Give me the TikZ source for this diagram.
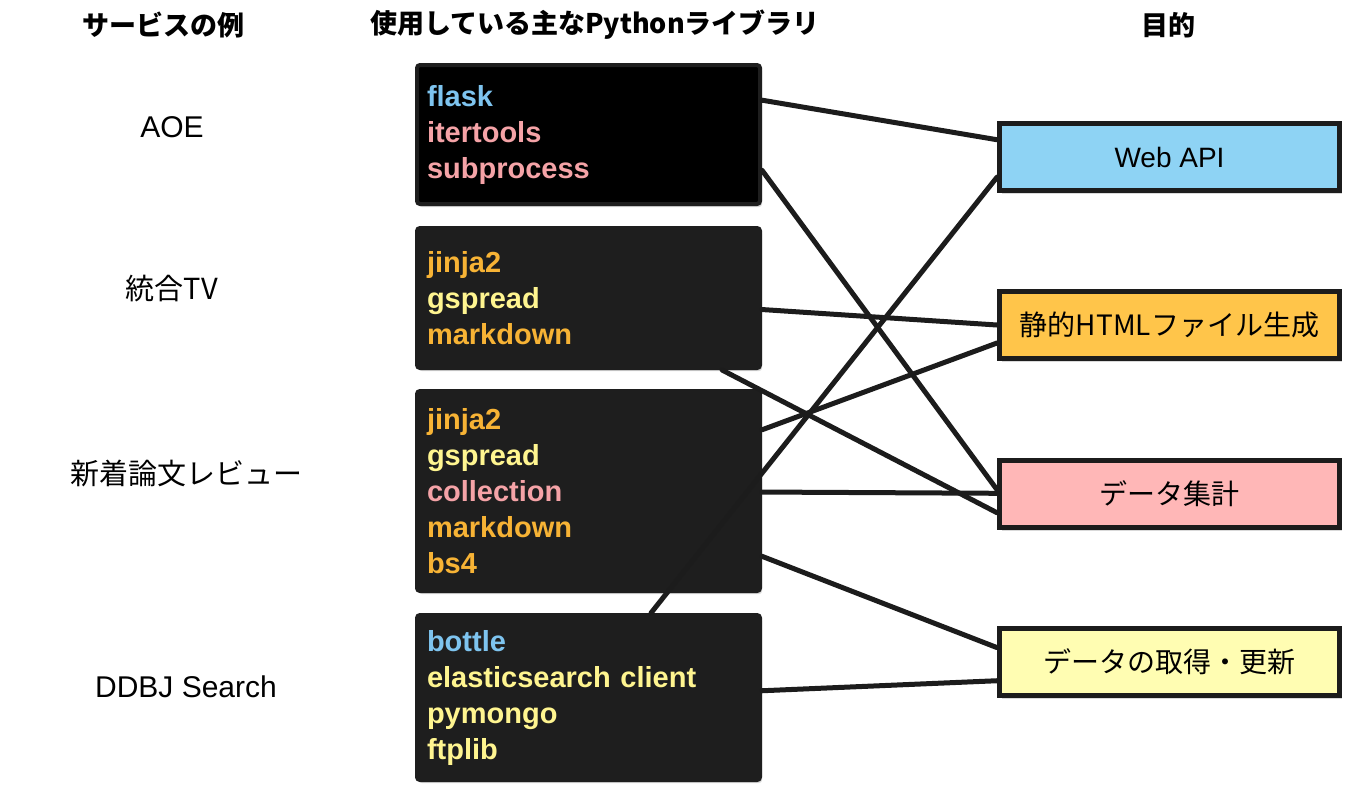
\documentclass[tikz,border=0pt]{standalone}
\usepackage{fontspec}
\setmainfont{Liberation Sans}
\newfontfamily\cjk{Noto Sans CJK JP}
\usetikzlibrary{positioning,calc,shadows}

\definecolor{libfill}{HTML}{1E1E1E}
\definecolor{linkgray}{HTML}{1C1C1C}
\definecolor{pyblue}{HTML}{7EC4EF}
\definecolor{pypink}{HTML}{F5A3A7}
\definecolor{pyorange}{HTML}{F7B335}
\definecolor{pyyellow}{HTML}{FFF590}
\definecolor{apiblue}{HTML}{8ED3F4}
\definecolor{htmlorange}{HTML}{FFC54A}
\definecolor{aggpink}{HTML}{FFB7B7}
\definecolor{fetchyellow}{HTML}{FFFDB2}

\begin{document}
\begin{tikzpicture}[x=0.5pt, y=-0.5pt,
  head/.style={font=\cjk\bfseries\fontsize{13.5}{16}\selectfont},
  svc/.style={font=\cjk\fontsize{14.5}{17}\selectfont},
  libbox/.style={draw=libfill, fill=libfill, line width=2pt,
    rounded corners=1.5pt, text width=161.5pt, inner xsep=5pt,
    align=left, font=\bfseries\fontsize{14.5}{18}\selectfont,
    drop shadow={opacity=0.3, shadow xshift=1pt, shadow yshift=-1.5pt}},
  goalbox/.style={draw=linkgray, line width=2.5pt, minimum width=170pt,
    minimum height=33.5pt, font=\cjk\fontsize{14}{16}\selectfont,
    drop shadow={opacity=0.3, shadow xshift=1pt, shadow yshift=-1.5pt}},
  link/.style={draw=linkgray, line width=2.5pt, line cap=round}]
\useasboundingbox (0,0) rectangle (1358,794);

% column heads
\node[head] (hsvc) at (163,25) {サービスの例};
\node[head] (hlib) at (595,25) {使用している主なPythonライブラリ};
\node[head] (hgoal) at (1168,25) {目的};

% services
\node[svc, font=\rmfamily\fontsize{15}{17}\selectfont] (aoe) at (172,127) {AOE};
\node[svc] (togotv) at (172,289) {統合TV};
\node[svc] (review) at (186,473) {新着論文レビュー};
\node[svc, font=\rmfamily\fontsize{15}{17}\selectfont] (ddbj) at (186,687) {DDBJ Search};

% libraries
\node[libbox, fill=black, minimum height=69.5pt] (lib1) at (588.5,134.5)
  {\textcolor{pyblue}{flask}\\
   \textcolor{pypink}{itertools}\\
   \textcolor{pypink}{subprocess}};
\node[libbox, minimum height=70pt, below=10pt of lib1] (lib2)
  {\textcolor{pyorange}{jinja2}\\
   \textcolor{pyyellow}{gspread}\\
   \textcolor{pyorange}{markdown}};
\node[libbox, minimum height=100pt, below=9.5pt of lib2] (lib3)
  {\textcolor{pyorange}{jinja2}\\
   \textcolor{pyyellow}{gspread}\\
   \textcolor{pypink}{collection}\\
   \textcolor{pyorange}{markdown}\\
   \textcolor{pyorange}{bs4}};
\node[libbox, minimum height=82.5pt, below=10pt of lib3] (lib4)
  {\textcolor{pyblue}{bottle}\\
   \textcolor{pyyellow}{elasticsearch client}\\
   \textcolor{pyyellow}{pymongo}\\
   \textcolor{pyyellow}{ftplib}};

% purposes
\node[goalbox, fill=apiblue] (webapi) at (1169.5,157) {\rmfamily Web API};
\node[goalbox, fill=htmlorange] (html) at (1169.5,325) {静的HTMLファイル生成};
\node[goalbox, fill=aggpink] (agg) at (1169.5,494) {データ集計};
\node[goalbox, fill=fetchyellow] (fetch) at (1169.5,662) {データの取得・更新};

% links
\draw[link] ($(lib1.north east)!.26!(lib1.south east)$)
  -- ($(webapi.north west)!.26!(webapi.south west)$);
\draw[link] ($(lib1.north east)!.75!(lib1.south east)$)
  -- ($(agg.north west)!.44!(agg.south west)$);
\draw[link] ($(lib2.north east)!.58!(lib2.south east)$)
  -- ($(html.north west)!.5!(html.south west)$);
\draw[link] ($(lib2.south west)!.885!(lib2.south east)$)
  -- ($(agg.north west)!.76!(agg.south west)$);
\draw[link] ($(lib3.north east)!.2!(lib3.south east)$)
  -- ($(html.north west)!.75!(html.south west)$);
\draw[link] ($(lib3.north east)!.505!(lib3.south east)$)
  -- ($(agg.north west)!.49!(agg.south west)$);
\draw[link] ($(lib3.north east)!.82!(lib3.south east)$)
  -- ($(fetch.north west)!.3!(fetch.south west)$);
\draw[link] ($(lib4.north west)!.68!(lib4.north east)$)
  -- ($(webapi.north west)!.78!(webapi.south west)$);
\draw[link] ($(lib4.north east)!.46!(lib4.south east)$)
  -- ($(fetch.north west)!.76!(fetch.south west)$);
\end{tikzpicture}
\end{document}
